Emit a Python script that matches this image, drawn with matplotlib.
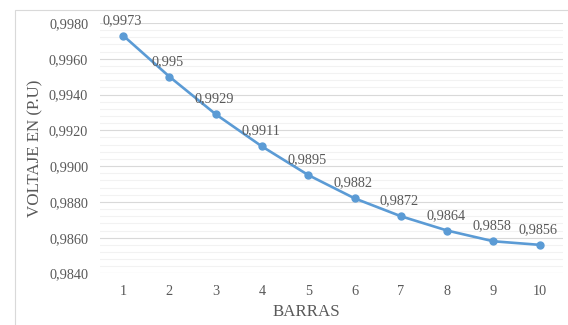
import matplotlib.pyplot as plt
from matplotlib.patches import Rectangle
from matplotlib.ticker import FuncFormatter, MultipleLocator

plt.rcParams['font.family'] = 'Liberation Serif'

# voltage profile per bus
barras = [1, 2, 3, 4, 5, 6, 7, 8, 9, 10]
voltaje = [0.9973, 0.995, 0.9929, 0.9911, 0.9895, 0.9882, 0.9872, 0.9864, 0.9858, 0.9856]
etiquetas = ['0,9973', '0,995', '0,9929', '0,9911', '0,9895', '0,9882',
             '0,9872', '0,9864', '0,9858', '0,9856']

gris = '#595959'
azul = '#5B9BD5'

fig = plt.figure(figsize=(5.68, 3.25), dpi=100)
ax = fig.add_axes([0.176, 0.1585, 0.815, 0.7708])

# chart frame
fig.patches.append(Rectangle((15 / 568, -0.05), 1.2, 1 - 10 / 325 + 0.05,
                             transform=fig.transFigure, fill=False,
                             edgecolor='#D9D9D9', linewidth=0.8))

ax.plot(barras, voltaje, color=azul, linewidth=1.9, marker='o', markersize=5, zorder=3)
for x, y, t in zip(barras, voltaje, etiquetas):
    ax.annotate(t, (x, y), xytext=(-1, 11), textcoords='offset points',
                ha='center', va='center', fontsize=10.3, color=gris)

ax.set_xlim(0.5, 10.5)
ax.set_ylim(0.984, 0.998)
ax.set_xticks(barras)
ax.yaxis.set_major_locator(MultipleLocator(0.002))
ax.yaxis.set_minor_locator(MultipleLocator(0.0004))
ax.yaxis.set_major_formatter(FuncFormatter(lambda v, p: f'{v:.4f}'.replace('.', ',')))
ax.grid(axis='y', which='major', color='#D9D9D9', linewidth=0.8)
ax.grid(axis='y', which='minor', color='#F2F2F2', linewidth=0.8)
ax.set_axisbelow(True)
for s in ax.spines.values():
    s.set_visible(False)
ax.tick_params(which='both', length=0, labelsize=10.3, labelcolor=gris)
ax.tick_params(axis='x', pad=8.5)
ax.tick_params(axis='y', pad=8.5)

fig.text(306 / 568, 1 - 312 / 325, 'BARRAS', fontsize=12.2, color=gris,
         ha='center', va='center')
fig.text(35 / 568, 1 - 148 / 325, 'VOLTAJE EN (P.U)', fontsize=12.2, color=gris,
         ha='center', va='center', rotation=90)

fig.savefig('out.png', dpi=100)
